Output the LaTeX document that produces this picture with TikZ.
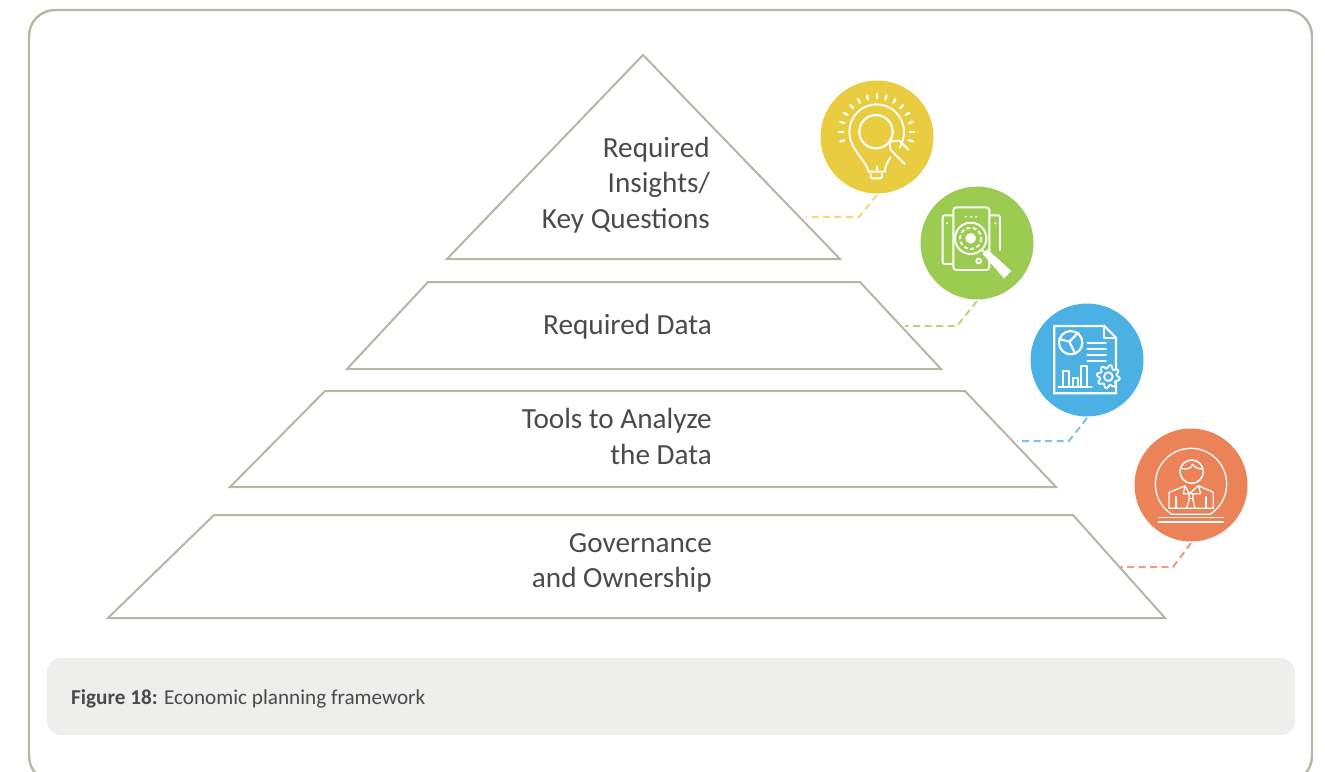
\documentclass[tikz,border=0pt]{standalone}
\usepackage{fontspec}
\setmainfont{Carlito}
\definecolor{frameline}{HTML}{B6B6A6}
\definecolor{captionfill}{HTML}{EEEEED}
\definecolor{textgray}{HTML}{4A4A4A}
\definecolor{insightyellow}{HTML}{E9CC3F}
\definecolor{datagreen}{HTML}{9BCB50}
\definecolor{toolblue}{HTML}{4BB0E4}
\definecolor{ownerorange}{HTML}{EC8358}
\tikzset{
  tierline/.style={draw=frameline,line width=2pt,line join=miter},
  tierlabel/.style={anchor=east,align=right,inner sep=0pt,text=textgray,font=\fontsize{29.2}{35.3}\selectfont},
  iconcircle/.style={circle,minimum size=113pt,inner sep=0pt,outer sep=1.5pt},
  leader/.style={line width=2pt,dash pattern=on 7pt off 4.5pt},
  iconline/.style={draw=white,line width=1.9pt,line cap=round,line join=round},
}
\begin{document}
\begin{tikzpicture}[x=1pt,y=-1pt]
\useasboundingbox (0,0) rectangle (1325,771);

% Outer frame and caption
\draw[frameline,line width=2.4pt,rounded corners=26pt] (29,10) rectangle (1312,782);
\fill[captionfill,rounded corners=14pt] (47,658) rectangle (1295,735);
\node[anchor=west,inner sep=0pt,text=textgray,font=\fontsize{21.2}{25}\selectfont] (caption) at (71,699) {\textbf{Figure 18:} Economic planning framework};

% Pyramid tiers
\draw[tierline] (643,55) -- (840,259) -- (447,259) -- cycle;
\draw[tierline] (428,282) -- (860,282) -- (941,369) -- (347,369) -- cycle;
\draw[tierline] (325,391) -- (965,391) -- (1056,487) -- (230,487) -- cycle;
\draw[tierline] (214,515) -- (1073,515) -- (1165,618) -- (108,618) -- cycle;

% Tier labels
\node[tierlabel] (insightslabel) at (710,185) {Required\\Insights/\\Key Questions};
\node[tierlabel] (datalabel) at (712,326.5) {Required Data};
\node[tierlabel] (toolslabel) at (712,436.5) {Tools to Analyze\\the Data};
\node[tierlabel] (ownerlabel) at (712,563) {Governance\\and Ownership};

% Circles
\node[iconcircle,fill=insightyellow] (insights) at (877,137) {};
\node[iconcircle,fill=datagreen] (data) at (977,243) {};
\node[iconcircle,fill=toolblue] (tools) at (1087,360) {};
\node[iconcircle,fill=ownerorange] (owner) at (1191,485) {};

% Dashed leaders
\coordinate (insightsbend) at (859,217);
\coordinate (insightsend) at (806,217);
\coordinate (databend) at (957,326);
\coordinate (dataend) at (905,326);
\coordinate (toolsbend) at (1069,441);
\coordinate (toolsend) at (1017,441);
\coordinate (ownerbend) at (1173,567);
\coordinate (ownerend) at (1120,567);
\draw[leader,insightyellow!70!white] (insights.south) -- (insightsbend) -- (insightsend);
\draw[leader,datagreen!75!white] (data.south) -- (databend) -- (dataend);
\draw[leader,toolblue!75!white] (tools.south) -- (toolsbend) -- (toolsend);
\draw[leader,ownerorange!80!white] (owner.south) -- (ownerbend) -- (ownerend);

% Bulb icon
\begin{scope}[shift={(800,70)},scale=1/3]
\foreach \a in {-195,-180,...,15}
  \draw[iconline,line width=2.2pt] ([shift={(\a:100)}]230,185) -- ([shift={(\a:113)}]230,185);
\draw[iconline] (205,305) .. controls (200,270) and (148,240) .. (148,185)
  .. controls (148,140) and (185,103) .. (230,103)
  .. controls (275,103) and (312,140) .. (312,185)
  .. controls (312,200) and (308,215) .. (300,232);
\draw[iconline] (272,262) .. controls (262,275) and (255,290) .. (255,305) -- (205,305);
\draw[iconline,rounded corners=2pt] (212,312) -- (212,325) -- (246,325) -- (246,312);
\draw[iconline] (230,290) -- (230,305);
\draw[iconline,line width=2.2pt] (228,185) circle (50);
\draw[iconline] (268,215) -- (298,212) -- (326,240);
\draw[iconline] (268,215) -- (272,240) -- (314,282);
\end{scope}

% Scan icon
\begin{scope}[shift={(800,70)},scale=1/3]
\draw[iconline,rounded corners=2pt] (460,436) -- (428,436) -- (428,582) -- (460,582);
\draw[iconline,rounded corners=2pt] (568,436) -- (600,436) -- (600,540);
\draw[iconline,rounded corners=3pt] (460,412) rectangle (568,600);
\foreach \x in {497,513,528}
  \fill[white] (\x,440) circle (3.5);
\fill[white] (441,460) circle (3.5);
\fill[white] (586,460) circle (3.5);
\draw[iconline] (536,573) circle (7);
\draw[iconline,fill=datagreen] (512,505) circle (47);
\draw[iconline,dash pattern=on 4pt off 2.5pt,line cap=butt] (512,505) circle (32);
\fill[white] (512,505) circle (16);
\draw[iconline] (545,540) -- (556,548);
\fill[white] (548,552) -- (562,538) -- (634,603) -- (612,625) -- cycle;
\end{scope}

% Report icon
\begin{scope}[shift={(1010,295)},scale=1/3]
\draw[iconline,line width=2.2pt,line cap=butt,line join=miter] (133,93) -- (283,93) -- (318,128) -- (318,295) -- (133,295) -- cycle;
\draw[iconline] (283,93) -- (283,128) -- (318,128);
\draw[iconline,line width=2.2pt] (182,143) circle (35);
\draw[iconline,line width=2.2pt] (178,140) -- (205,113) (178,140) -- (148,132) (178,140) -- (195,175);
\foreach \y in {145,163,180,197}
  \draw[iconline] (232,\y) -- (288,\y);
\draw[iconline] (145,275) -- (245,275);
\draw[iconline] (160,275) -- (160,228) -- (178,228) -- (178,275);
\draw[iconline] (190,275) -- (190,250) -- (205,250) -- (205,275);
\draw[iconline] (214,275) -- (214,212) -- (232,212) -- (232,275);
\draw[iconline,fill=toolblue] plot[domain=0:360,samples=145] ({295+(30+5*sin(8*\x))*cos(\x)},{245+(30+5*sin(8*\x))*sin(\x)}) -- cycle;
\draw[iconline] (295,245) circle (13);
\end{scope}

% Person icon
\begin{scope}[shift={(1010,295)},scale=1/3]
\draw[iconline,line width=1.3pt] (485,658) .. controls (455,638) and (436,605) .. (436,567)
  .. controls (436,508) and (484,460) .. (543,460)
  .. controls (602,460) and (650,508) .. (650,567)
  .. controls (650,605) and (631,638) .. (600,658) -- cycle;
\draw[iconline,line width=1.5pt] (445,668) -- (640,668);
\draw[iconline,line width=1.5pt] (445,681) -- (640,681);
\draw[iconline,line width=1.5pt] (545,530) circle (35);
\draw[iconline,line width=1.3pt] (512,520) .. controls (530,525) and (545,520) .. (548,508) .. controls (555,518) and (565,522) .. (578,522);
\draw[iconline,line width=1.3pt] (477,640) -- (477,592) -- (525,573) -- (538,596) -- (565,572) -- (610,592) -- (610,640) -- cycle;
\draw[iconline,line width=1.3pt] (498,605) -- (498,640);
\draw[iconline,line width=1.3pt] (588,605) -- (588,640);
\draw[iconline,line width=1.3pt] (525,573) -- (520,596) -- (538,596) -- (572,596) -- (565,572);
\draw[iconline,line width=1.3pt] (536,596) -- (538,610) -- (530,640);
\draw[iconline,line width=1.3pt] (550,596) -- (548,610) -- (555,640);
\draw[iconline,line width=1.3pt] (538,610) -- (548,610);
\end{scope}
\end{tikzpicture}
\end{document}
